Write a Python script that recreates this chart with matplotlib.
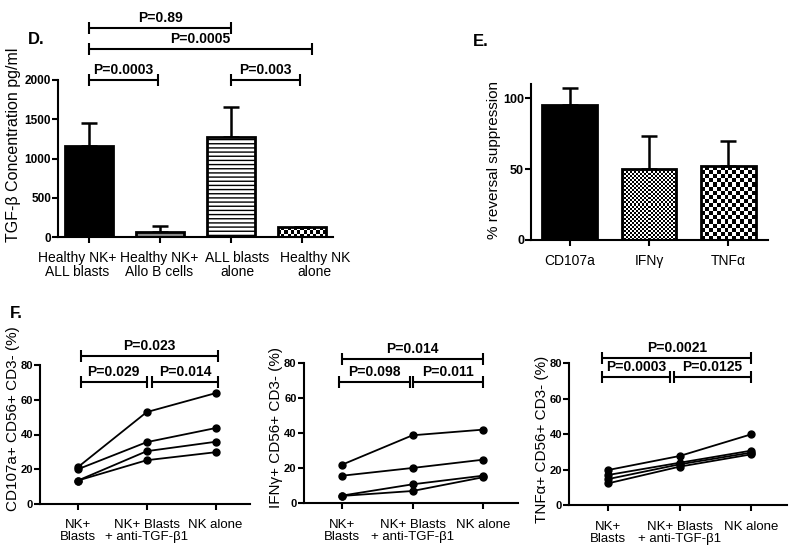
import numpy as np
import matplotlib
matplotlib.use("Agg")
import matplotlib.pyplot as plt
from matplotlib.colors import ListedColormap
from matplotlib.transforms import ScaledTranslation

plt.rcParams['font.family'] = ['Liberation Sans', 'DejaVu Sans']
plt.rcParams['hatch.linewidth'] = 1.0

# panel D: TGF-beta concentration
d_labels = ['Healthy NK+\nALL blasts', 'Healthy NK+\nAllo B cells', 'ALL blasts\nalone', 'Healthy NK\nalone']
d_means = [1160, 65, 1270, 125]
d_err = [295, 70, 390, 0]
d_pvals = [(0, 2.0, 2660, 'P=0.89'), (0, 3.14, 2395, 'P=0.0005'),
           (0, 0.97, 2000, 'P=0.0003'), (2.0, 2.97, 2000, 'P=0.003')]

# panel E: % reversal suppression
e_labels = ['CD107a', 'IFNγ', 'TNFα']
e_means = [95.5, 50, 52]
e_err = [12, 23, 17.5]

# panel F: paired donors
f_groups = ['NK+\nBlasts', 'NK+ Blasts\n+ anti-TGF-β1', 'NK alone']
cd107a = [[21.2, 52.9, 63.8], [20.0, 35.6, 43.7], [13.5, 30.4, 35.8], [13.5, 25.2, 29.8]]
ifng = [[22.0, 38.7, 41.9], [15.7, 20.1, 24.8], [4.4, 10.8, 15.7], [4.2, 7.0, 14.8]]
tnfa = [[19.9, 27.8, 40.0], [17.1, 24.0, 30.8], [14.8, 23.1, 29.7], [12.4, 21.8, 28.7]]
cd107a_p = [(0.04, 2.04, 85, 'P=0.023'), (0.04, 1.0, 70, 'P=0.029'), (1.08, 2.04, 70, 'P=0.014')]
ifng_p = [(0, 2.0, 82, 'P=0.014'), (-0.05, 0.97, 68.8, 'P=0.098'), (1.01, 2.0, 68.8, 'P=0.011')]
tnfa_p = [(-0.085, 2.0, 82.8, 'P=0.0021'), (-0.085, 0.865, 72.1, 'P=0.0003'), (0.92, 2.0, 72.1, 'P=0.0125')]

W, H = 800, 557
fig = plt.figure(figsize=(W / 100, H / 100), dpi=100)


def px_rect(l, r, b, t):
    return [l / W, (H - b) / H, (r - l) / W, (b - t) / H]


def style(ax, ysize=8.5, xsize=10, xpad=6):
    for s in ['top', 'right']:
        ax.spines[s].set_visible(False)
    for s in ['left', 'bottom']:
        ax.spines[s].set_linewidth(1.5)
    ax.tick_params(direction='out', length=4, width=1.5)
    ax.tick_params(axis='y', labelsize=ysize, pad=1)
    ax.tick_params(axis='x', labelsize=xsize, pad=xpad)
    for t in ax.get_yticklabels():
        t.set_fontweight('bold')


def bracket(ax, x1, x2, y, txt):
    ax.plot([x1, x2], [y, y], color='black', lw=1.5, marker='|', markersize=8,
            mew=1.5, clip_on=False, solid_capstyle='butt')
    ax.annotate(txt, ((x1 + x2) / 2, y), xytext=(0, 2.5), textcoords='offset points',
                ha='center', va='bottom', fontsize=10, fontweight='bold', annotation_clip=False)


def checker(ax, bar, cell_px):
    bb = ax.get_window_extent()
    x0, x1 = ax.get_xlim()
    y0, y1 = ax.get_ylim()
    pxx = bb.width / (x1 - x0)
    pxy = bb.height / (y1 - y0)
    bx, bw, bh = bar.get_x(), bar.get_width(), bar.get_height()
    nc = max(1, int(round(bw * pxx / cell_px)))
    nr = max(1, int(round(bh * pxy / cell_px)))
    arr = np.add.outer(np.arange(nr), np.arange(nc)) % 2
    ax.imshow(arr, cmap=ListedColormap(['white', 'black']), extent=(bx, bx + bw, 0, bh),
              aspect='auto', interpolation='nearest', zorder=1)
    ax.set_xlim(x0, x1)
    ax.set_ylim(y0, y1)


# ---- D ----
axd = fig.add_axes(px_rect(58, 333, 237, 80))
xd = np.arange(len(d_means))
axd.set_xlim(-0.44, 3.44)
axd.set_ylim(0, 2000)
fills = ['black', '#8a8a8a', 'white', 'none']
hatches = [None, None, '----', None]
bars_d = axd.bar(xd, d_means, width=0.67, color=fills, edgecolor='black', linewidth=2,
                 hatch=hatches, zorder=2)
checker(axd, bars_d[3], 3.2)
axd.errorbar(xd, d_means, yerr=[np.zeros(4), d_err], fmt='none', ecolor='black',
             elinewidth=1.8, capsize=6, capthick=1.8, zorder=1.5)
axd.set_yticks([0, 500, 1000, 1500, 2000])
axd.set_xticks(xd)
axd.set_xticklabels(d_labels, linespacing=1.0)
style(axd)
# shift labels sideways like the original layout
for lab, dx in zip(axd.get_xticklabels(), [-12, -1, 6, 13]):
    lab.set_transform(lab.get_transform() + ScaledTranslation(dx / 100, 0, fig.dpi_scale_trans))
for x1, x2, y, t in d_pvals:
    bracket(axd, x1, x2, y, t)
fig.text(14 / W, 1 - 145 / H, 'TGF-β Concentration pg/ml', rotation=90, ha='center', va='center', fontsize=11.5)
fig.text(28 / W, 1 - 39 / H, 'D.', fontsize=12, fontweight='bold', va='center')

# ---- E ----
axe = fig.add_axes(px_rect(531, 768, 240, 84))
xe = np.arange(len(e_means))
axe.set_xlim(-0.49, 2.5)
axe.set_ylim(0, 110)
bars_e = axe.bar(xe, e_means, width=0.69, color=['black', 'none', 'none'], edgecolor='black',
                 linewidth=2, zorder=2)
checker(axe, bars_e[1], 2.0)
checker(axe, bars_e[2], 4.0)
axe.errorbar(xe, e_means, yerr=[np.zeros(3), e_err], fmt='none', ecolor='black',
             elinewidth=1.8, capsize=6, capthick=1.8, zorder=1.5)
axe.set_yticks([0, 50, 100])
axe.set_xticks(xe)
axe.set_xticklabels(e_labels)
style(axe, ysize=9)
fig.text(494 / W, 1 - 160 / H, '% reversal suppression', rotation=90, ha='center', va='center', fontsize=11)
fig.text(473 / W, 1 - 42 / H, 'E.', fontsize=12, fontweight='bold', va='center')

# ---- F ----
f_panels = [
    (px_rect(40, 250, 504, 365), cd107a, cd107a_p, 'CD107a+ CD56+ CD3- (%)', 13, 419),
    (px_rect(303.5, 518, 503.3, 362.7), ifng, ifng_p, 'IFNγ+ CD56+ CD3- (%)', 276, 427),
    (px_rect(569, 787, 505.3, 363.3), tnfa, tnfa_p, 'TNFα+ CD56+ CD3- (%)', 542, 439),
]
xf = np.arange(len(f_groups))
for rect, series, pv, ylab, lx, ly in f_panels:
    ax = fig.add_axes(rect)
    for s in series:
        ax.plot(xf, s, color='black', lw=1.3, marker='o', markersize=5, clip_on=False)
    ax.set_xlim(-0.55, 2.5)
    ax.set_ylim(0, 80)
    ax.set_yticks([0, 20, 40, 60, 80])
    ax.set_xticks(xf)
    ax.set_xticklabels(f_groups, linespacing=1.0)
    style(ax, ysize=8, xsize=9.5, xpad=7)
    for x1, x2, y, t in pv:
        bracket(ax, x1, x2, y, t)
    fig.text(lx / W, 1 - ly / H, ylab, rotation=90, ha='center', va='center', fontsize=11)
fig.text(10 / W, 1 - 314 / H, 'F.', fontsize=12, fontweight='bold', va='center')

fig.savefig('out.png', dpi=100)
